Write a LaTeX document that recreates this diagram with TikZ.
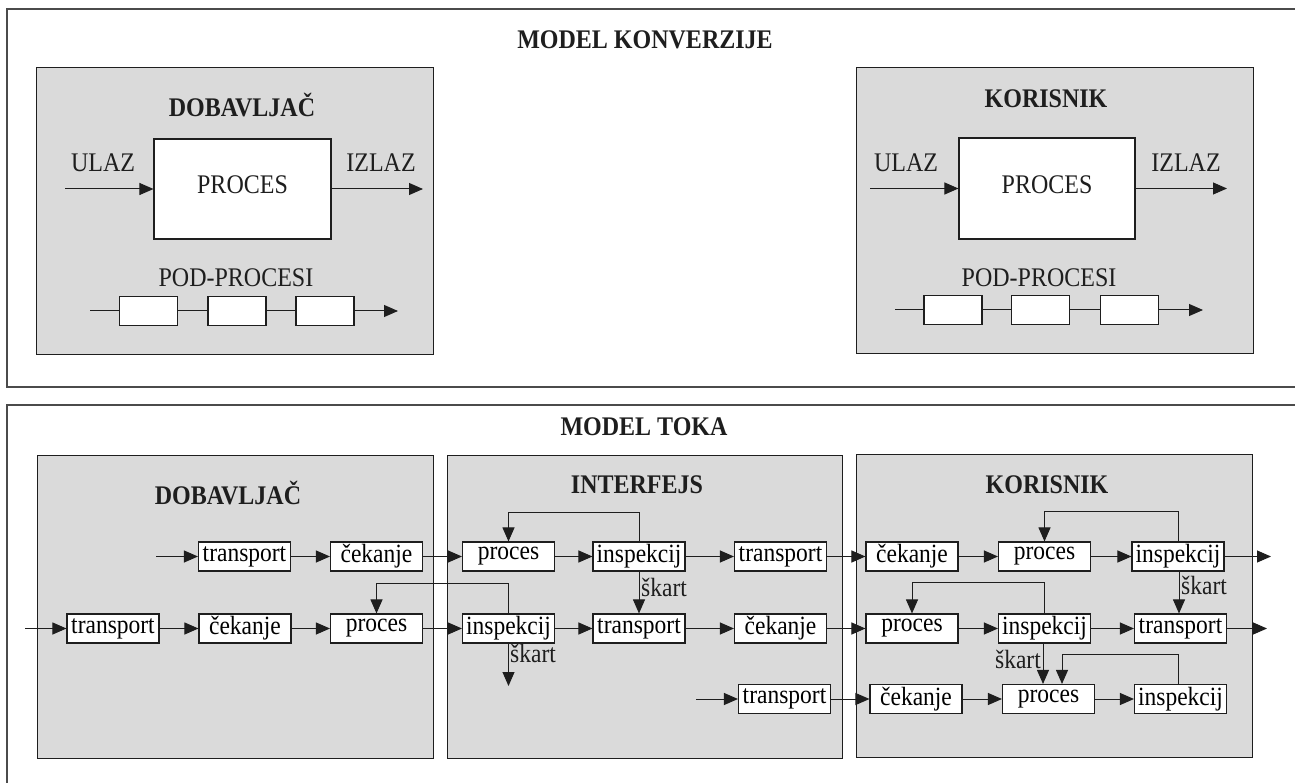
\documentclass[tikz,border=0pt]{standalone}
\usepackage{fontspec}
\setmainfont{Liberation Serif}
\usetikzlibrary{arrows.meta}
\definecolor{zonegray}{RGB}{218,218,218}
\definecolor{inkc}{RGB}{30,30,30}
\newcommand\vst[1]{\scalebox{1}[1.12]{#1}}
\begin{document}
\begin{tikzpicture}[x=1pt,y=-1pt,
  frame/.style={draw=inkc!80, line width=1.2pt},
  zone/.style={draw=inkc, fill=zonegray, line width=1.3pt, inner sep=0pt, anchor=north west},
  bigbox/.style={draw=inkc, fill=white, line width=1.1pt, inner sep=0pt, font=\fontsize{24}{28}\selectfont},
  subbox/.style={draw=inkc, fill=white, line width=1.1pt, inner sep=0pt, minimum width=58pt, minimum height=29pt},
  stepbox/.style={draw=inkc, fill=white, line width=1.1pt, inner sep=0pt, minimum width=92pt, minimum height=29pt, font=\fontsize{23.5}{26}\selectfont},
  title/.style={font=\bfseries\fontsize{24}{28}\selectfont, text=inkc},
  lbl/.style={font=\fontsize{24}{28}\selectfont, text=inkc},
  slbl/.style={font=\fontsize{23.5}{26}\selectfont, text=inkc, inner sep=0pt},
  ln/.style={draw=inkc, line width=1pt},
  arr/.style={draw=inkc, line width=1pt, -{Triangle[length=14pt,width=12pt]}}
]
\useasboundingbox (0,0) rectangle (1295,783);
\fill[white] (0,0) rectangle (1295,783);

% ---------- top frame: MODEL KONVERZIJE ----------
\draw[frame] (1295,9) -- (7,9) -- (7,387) -- (1295,387);
\node[title] (t1) at (645,40) {\vst{MODEL KONVERZIJE}};

% Dobavljac (conversion)
\node[zone, minimum width=397pt, minimum height=287pt] (zcd) at (36,67) {};
\node[title] (lcd) at (242,105) {\vst{DOBAVLJAČ}};
\node[bigbox, minimum width=177pt, minimum height=100pt] (pcd) at (242.5,189) {};
\node[lbl] (pcdt) at (242.5,185) {\vst{PROCES}};
\node[lbl] (ucd) at (103,163) {\vst{ULAZ}};
\node[lbl] (icd) at (381,163) {\vst{IZLAZ}};
\coordinate (pcdin) at (65,189);
\coordinate (pcdout) at (423,189);
\draw[arr] (pcdin) -- (pcd.west);
\draw[arr] (pcd.east) -- (pcdout);
\node[lbl] (ppd) at (236,278) {\vst{POD-PROCESI}};
\node[subbox] (sd1) at (148.5,311) {};
\node[subbox] (sd2) at (237,311) {};
\node[subbox] (sd3) at (325,311) {};
\coordinate (sdin) at (90,311);
\coordinate (sdout) at (398,311);
\draw[ln] (sdin) -- (sd1.west);
\draw[ln] (sd1.east) -- (sd2.west);
\draw[ln] (sd2.east) -- (sd3.west);
\draw[arr] (sd3.east) -- (sdout);

% Korisnik (conversion)
\node[zone, minimum width=397pt, minimum height=286pt] (zck) at (856,67) {};
\node[title] (lck) at (1046,99) {\vst{KORISNIK}};
\node[bigbox, minimum width=176pt, minimum height=101pt] (pck) at (1047,188.5) {};
\node[lbl] (pckt) at (1047,185) {\vst{PROCES}};
\node[lbl] (uck) at (906,163) {\vst{ULAZ}};
\node[lbl] (ick) at (1186,163) {\vst{IZLAZ}};
\coordinate (pckin) at (870,188.5);
\coordinate (pckout) at (1227,188.5);
\draw[arr] (pckin) -- (pck.west);
\draw[arr] (pck.east) -- (pckout);
\node[lbl] (ppk) at (1039,278) {\vst{POD-PROCESI}};
\node[subbox] (sk1b) at (953,310) {};
\node[subbox] (sk2b) at (1040.5,310) {};
\node[subbox] (sk3b) at (1129.5,310) {};
\coordinate (skin) at (895,310);
\coordinate (skout) at (1203,310);
\draw[ln] (skin) -- (sk1b.west);
\draw[ln] (sk1b.east) -- (sk2b.west);
\draw[ln] (sk2b.east) -- (sk3b.west);
\draw[arr] (sk3b.east) -- (skout);

% ---------- bottom frame: MODEL TOKA ----------
\draw[frame] (1295,405) -- (7,405) -- (7,783);
\node[title] (t2) at (644,427) {\vst{MODEL TOKA}};

\node[zone, minimum width=396pt, minimum height=303pt] (zfd) at (37,455) {};
\node[zone, minimum width=395pt, minimum height=303pt] (zfi) at (447,455) {};
\node[zone, minimum width=396pt, minimum height=303pt] (zfk) at (856,454) {};
\node[title] (lfd) at (228,493) {\vst{DOBAVLJAČ}};
\node[title] (lfi) at (637,485) {\vst{INTERFEJS}};
\node[title] (lfk) at (1047,485) {\vst{KORISNIK}};

% row 1
\node[stepbox] (d1a) at (244.5,556.5) {\vst{transport}};
\node[stepbox] (d1b) at (376.5,556.5) {\vst{čekanje}};
\node[stepbox] (i1a) at (508.5,556.5) {\vst{proces}};
\node[stepbox] (i1b) at (639,556.5) {\vst{inspekcij}};
\node[stepbox] (i1c) at (780.5,556.5) {\vst{transport}};
\node[stepbox] (k1a) at (912,556.5) {\vst{čekanje}};
\node[stepbox] (k1b) at (1044.5,556.5) {\vst{proces}};
\node[stepbox] (k1c) at (1178,556.5) {\vst{inspekcij}};
% row 2
\node[stepbox] (d2a) at (113,628.5) {\vst{transport}};
\node[stepbox] (d2b) at (245,628.5) {\vst{čekanje}};
\node[stepbox] (d2c) at (376.5,628.5) {\vst{proces}};
\node[stepbox] (i2a) at (508.5,628.5) {\vst{inspekcij}};
\node[stepbox] (i2b) at (639,628.5) {\vst{transport}};
\node[stepbox] (i2c) at (780.5,628.5) {\vst{čekanje}};
\node[stepbox] (k2a) at (912,628.5) {\vst{proces}};
\node[stepbox] (k2b) at (1044.5,628.5) {\vst{inspekcij}};
\node[stepbox] (k2c) at (1180.5,628.5) {\vst{transport}};
% row 3
\node[stepbox] (i3a) at (784.5,699) {\vst{transport}};
\node[stepbox] (k3a) at (916,699) {\vst{čekanje}};
\node[stepbox] (k3b) at (1048.5,699) {\vst{proces}};
\node[stepbox] (k3c) at (1180.5,699) {\vst{inspekcij}};

\coordinate (in1) at (156,556.5);
\coordinate (in2) at (25,628.5);
\coordinate (in3) at (696,699);
\coordinate (out1) at (1271,556.5);
\coordinate (out2) at (1267,628.5);
\coordinate (scr) at (508.5,686);

% row 1 flow
\draw[arr] (in1) -- (d1a);
\draw[arr] (d1a) -- (d1b);
\draw[arr] (d1b) -- (i1a);
\draw[arr] (i1a) -- (i1b);
\draw[arr] (i1b) -- (i1c);
\draw[arr] (i1c) -- (k1a);
\draw[arr] (k1a) -- (k1b);
\draw[arr] (k1b) -- (k1c);
\draw[arr] (k1c) -- (out1);
% row 2 flow
\draw[arr] (in2) -- (d2a);
\draw[arr] (d2a) -- (d2b);
\draw[arr] (d2b) -- (d2c);
\draw[arr] (d2c) -- (i2a);
\draw[arr] (i2a) -- (i2b);
\draw[arr] (i2b) -- (i2c);
\draw[arr] (i2c) -- (k2a);
\draw[arr] (k2a) -- (k2b);
\draw[arr] (k2b) -- (k2c);
\draw[arr] (k2c) -- (out2);
% row 3 flow
\draw[arr] (in3) -- (i3a);
\draw[arr] (i3a) -- (k3a);
\draw[arr] (k3a) -- (k3b);
\draw[arr] (k3b) -- (k3c);

% feedback loops
\draw[arr] (i1b.north) -- ++(0,-29) -| (i1a.north);
\draw[arr] (i2a.north) -- ++(0,-30) -| (d2c.north);
\draw[arr] (k1c.north) -- ++(0,-30) -| (k1b.north);
\draw[arr] (k2b.north) -- ++(0,-31) -| (k2a.north);
\draw[arr] ([xshift=-2pt]k3c.north) -- ++(0,-29) -| ([xshift=13.5pt]k3b.north);

% scrap (skart) arrows
\draw[arr] (i1b.south) -- (i2b.north);
\draw[arr] (i2a.south) -- (scr);
\draw[arr] ([xshift=1pt]k1c.south) -- ([xshift=1pt]k1c.south |- k2c.north);
\draw[arr] ([xshift=-1.5pt]k2b.south) -- ([xshift=-1.5pt]k2b.south |- k3b.north);
\node[slbl, anchor=west] (s1) at (641,587) {\vst{škart}};
\node[slbl, anchor=west] (s2) at (510,653) {\vst{škart}};
\node[slbl, anchor=west] (s3) at (1181,585) {\vst{škart}};
\node[slbl, anchor=east] (s4) at (1041,659) {\vst{škart}};
\end{tikzpicture}
\end{document}
